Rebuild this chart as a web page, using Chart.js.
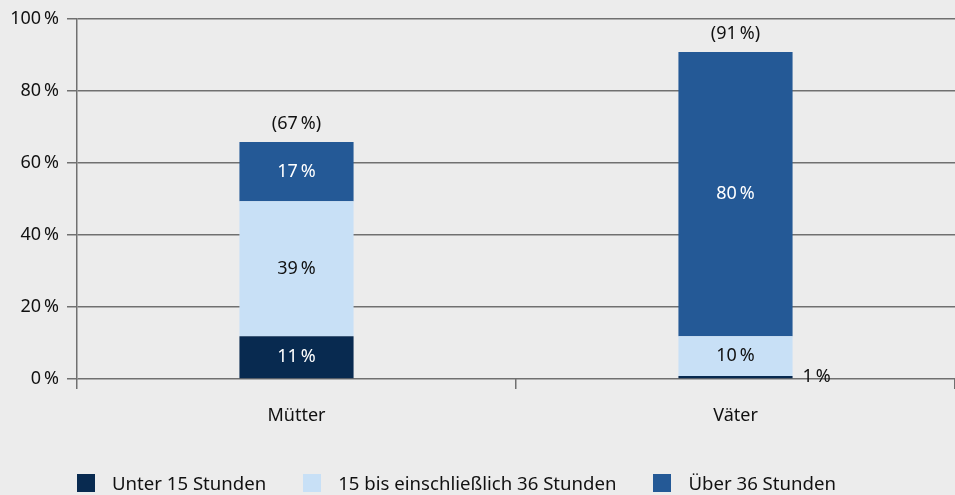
<!DOCTYPE html>
<html lang="de">
<head>
    <meta charset="UTF-8">
    <title>Arbeitszeit Mütter und Väter</title>
    <style>
        body {
            margin: 0;
            background-color: #ececec;
            font-family: "Noto Sans", sans-serif;
        }
        .wrap {
            position: relative;
            width: 955px;
            height: 495px;
            overflow: hidden;
        }
        #legende {
            position: absolute;
            left: 77px;
            top: 473px;
            display: flex;
            align-items: center;
            font-size: 18.6px;
            color: #111;
            line-height: 20px;
        }
        #legende .box {
            width: 18px;
            height: 18px;
            margin-right: 17px;
        }
        #legende .txt {
            margin-right: 37px;
        }
    </style>
    <script src="https://cdn.jsdelivr.net/npm/chart.js"></script>
</head>
<body>
    <div class="wrap">
        <canvas id="chart" width="955" height="495"></canvas>
        <div id="legende"></div>
    </div>

    <script>
        const categories = ['Mütter', 'Väter'];
        const seriesNames = ['Unter 15 Stunden', '15 bis einschließlich 36 Stunden', 'Über 36 Stunden'];

        // Balkenhöhen
        const unter15 = [11.9, 0.8];
        const bis36 = [37.5, 11.1];
        const ueber36 = [16.4, 78.9];

        // beschriftete Werte
        const unter15Labels = ['11\u202F%', '1\u202F%'];
        const bis36Labels = ['39\u202F%', '10\u202F%'];
        const ueber36Labels = ['17\u202F%', '80\u202F%'];
        const totalLabels = ['(67\u202F%)', '(91\u202F%)'];

        const yTicks = [0, 20, 40, 60, 80, 100];

        const farben = ['#082a50', '#c8e0f6', '#245996'];
        const textFarben = ['#ffffff', '#111111', '#ffffff'];
        const gridFarbe = '#707070';

        const labelSets = [unter15Labels, bis36Labels, ueber36Labels];

        const wertePlugin = {
            id: 'werte',
            afterDatasetsDraw(chart) {
                const ctx = chart.ctx;
                ctx.save();
                ctx.font = '18px "Noto Sans"';
                ctx.textBaseline = 'middle';
                chart.data.datasets.forEach((ds, i) => {
                    const meta = chart.getDatasetMeta(i);
                    meta.data.forEach((bar, j) => {
                        const h = Math.abs(bar.base - bar.y);
                        const text = labelSets[i][j];
                        if (h < 18) {
                            // zu schmal: rechts neben den Balken
                            ctx.fillStyle = '#111';
                            ctx.textAlign = 'left';
                            ctx.fillText(text, bar.x + bar.width / 2 + 10, (bar.y + bar.base) / 2);
                        } else {
                            ctx.fillStyle = textFarben[i];
                            ctx.textAlign = 'center';
                            ctx.fillText(text, bar.x, (bar.y + bar.base) / 2);
                        }
                    });
                });
                // Summen über den Balken
                const last = chart.getDatasetMeta(chart.data.datasets.length - 1);
                ctx.fillStyle = '#111';
                ctx.textAlign = 'center';
                last.data.forEach((bar, j) => {
                    ctx.fillText(totalLabels[j], bar.x, bar.y - 18);
                });
                ctx.restore();
            }
        };

        const ctx = document.getElementById('chart').getContext('2d');
        const chart = new Chart(ctx, {
            type: 'bar',
            data: {
                labels: categories,
                datasets: [
                    { label: seriesNames[0], data: unter15, backgroundColor: farben[0] },
                    { label: seriesNames[1], data: bis36, backgroundColor: farben[1] },
                    { label: seriesNames[2], data: ueber36, backgroundColor: farben[2] }
                ]
            },
            options: {
                responsive: false,
                animation: false,
                layout: {
                    padding: { top: 19, right: 0, bottom: 56, left: 0 }
                },
                datasets: {
                    bar: {
                        categoryPercentage: 1,
                        barPercentage: 0.26,
                        borderWidth: 0
                    }
                },
                plugins: {
                    legend: { display: false },
                    tooltip: { enabled: false }
                },
                scales: {
                    x: {
                        stacked: true,
                        afterFit(scale) { scale.height = 60; },
                        grid: {
                            offset: true,
                            drawOnChartArea: false,
                            drawTicks: true,
                            tickLength: 10,
                            color: gridFarbe,
                            lineWidth: 1.5
                        },
                        border: { display: false },
                        ticks: {
                            padding: 16,
                            color: '#111',
                            font: { family: 'Noto Sans', size: 18 }
                        }
                    },
                    y: {
                        stacked: true,
                        min: 0,
                        max: 100,
                        afterFit(scale) { scale.width = 77; },
                        afterBuildTicks(scale) {
                            scale.ticks = yTicks.map(v => ({ value: v }));
                        },
                        grid: {
                            color: gridFarbe,
                            lineWidth: 1.5,
                            tickLength: 10
                        },
                        border: { display: true, color: gridFarbe, width: 1.5 },
                        ticks: {
                            padding: 8,
                            color: '#111',
                            font: { family: 'Noto Sans', size: 18 },
                            callback: v => v + '\u202F%'
                        }
                    }
                }
            },
            plugins: [wertePlugin]
        });

        // Legende unten
        const legende = document.getElementById('legende');
        chart.data.datasets.forEach(ds => {
            const box = document.createElement('span');
            box.className = 'box';
            box.style.backgroundColor = ds.backgroundColor;
            const txt = document.createElement('span');
            txt.className = 'txt';
            txt.textContent = ds.label;
            legende.appendChild(box);
            legende.appendChild(txt);
        });
    </script>
</body>
</html>
